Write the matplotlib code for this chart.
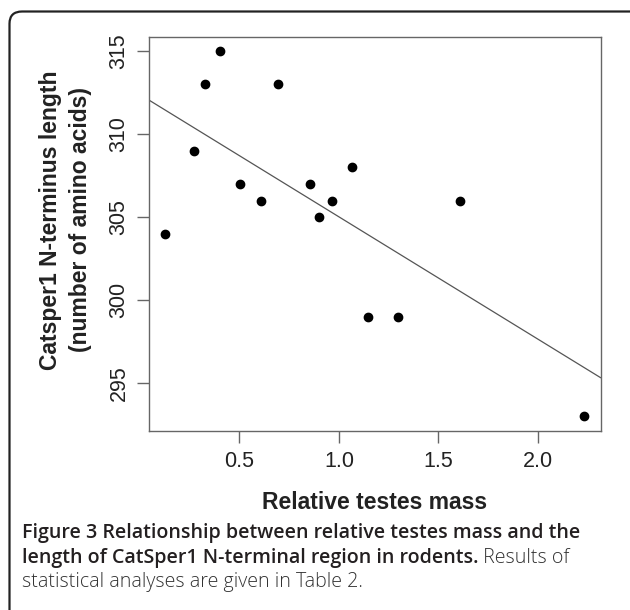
import numpy as np
import matplotlib
matplotlib.use("Agg")
import matplotlib.pyplot as plt
from matplotlib.patches import FancyBboxPatch

# relative testes mass vs CatSper1 N-terminus length
testes_mass = [0.127, 0.271, 0.327, 0.400, 0.504, 0.607, 0.696, 0.853,
               0.898, 0.964, 1.067, 1.148, 1.299, 1.610, 2.231]
nterm_length = [304, 309, 313, 315, 307, 306, 313, 307,
                305, 306, 308, 299, 299, 306, 293]
x_ticks = [0.5, 1.0, 1.5, 2.0]
y_ticks = [295, 300, 305, 310, 315]

caption_bold = ["Figure 3 Relationship between relative testes mass and the",
                "length of CatSper1 N-terminal region in rodents."]
caption_rest = [" Results of", "statistical analyses are given in Table 2."]

W, H = 630, 610
fig = plt.figure(figsize=(W / 100, H / 100), dpi=100)

# outer rounded frame (runs off the right and bottom edges)
frame = FancyBboxPatch((9.5 / W, -30 / H), 660 / W, (H - 11.5 + 30) / H,
                       boxstyle="round,pad=0,rounding_size=0.02",
                       transform=fig.transFigure, fill=False,
                       edgecolor="#222222", linewidth=1.6)
fig.patches.append(frame)

ax = fig.add_axes([148.5 / W, 1 - 430.7 / H, 452 / W, 394 / H])

x = np.array(testes_mass)
y = np.array(nterm_length)
ax.plot(x, y, "o", color="black", markersize=6)

# R-style axis limits (4% extension of the data range)
xr = x.max() - x.min()
yr = y.max() - y.min()
xlim = (x.min() - 0.04 * xr, x.max() + 0.04 * xr)
ax.set_xlim(*xlim)
ax.set_ylim(y.min() - 0.04 * yr, y.max() + 0.04 * yr)

slope, intercept = np.polyfit(x, y, 1)
xx = np.array(xlim)
ax.plot(xx, intercept + slope * xx, color="#555555", linewidth=0.9)

ax.set_xticks(x_ticks)
ax.set_xticklabels([f"{t:.1f}" for t in x_ticks])
ax.set_yticks(y_ticks)
ax.set_yticklabels([str(t) for t in y_ticks])
for lab in ax.get_xticklabels() + ax.get_yticklabels():
    lab.set_fontfamily("Liberation Sans")
    lab.set_fontsize(15.5)
    lab.set_color("#222222")
for lab in ax.get_yticklabels():
    lab.set_rotation(90)
    lab.set_verticalalignment("center")
ax.tick_params(length=8.6, width=1.0, color="#666666", pad=5)
ax.tick_params(axis="x", pad=6)
for s in ax.spines.values():
    s.set_color("#666666")
    s.set_linewidth(1.0)

ax.set_xlabel("Relative testes mass", family="Liberation Sans", fontsize=16.5,
              fontweight="bold", color="#222222", labelpad=14)
ax.set_ylabel("Catsper1 N-terminus length\n(number of amino acids)",
              family="Liberation Sans", fontsize=16.5, fontweight="bold",
              color="#222222", labelpad=12, linespacing=1.4)
ax.yaxis.label.set_y(0.535)

# caption with bold lead-in followed by regular text
cap_x = 21.7 / W
base = [538.3, 562.7, 587.0]
fig.canvas.draw()
renderer = fig.canvas.get_renderer()

# size the caption font so the first line spans the same width as the reference
probe = fig.text(0, 0, caption_bold[0], family="Open Sans",
                 fontweight="semibold", fontsize=10)
cap_size = 10 * 555 / probe.get_window_extent(renderer=renderer).width
probe.remove()

bold_kw = dict(family="Open Sans", fontweight="semibold", fontsize=cap_size,
               color="#231f20", va="baseline")
rest_kw = dict(family="Open Sans", fontweight="light", fontsize=cap_size,
               color="#333333", va="baseline")
fig.text(cap_x, 1 - base[0] / H, caption_bold[0], **bold_kw)
t2 = fig.text(cap_x, 1 - base[1] / H, caption_bold[1], **bold_kw)
bb = t2.get_window_extent(renderer=renderer)
fig.text(bb.x1 / W, 1 - base[1] / H, caption_rest[0], **rest_kw)
fig.text(cap_x, 1 - base[2] / H, caption_rest[1], **rest_kw)

fig.savefig("out.png", dpi=100, facecolor="white")
